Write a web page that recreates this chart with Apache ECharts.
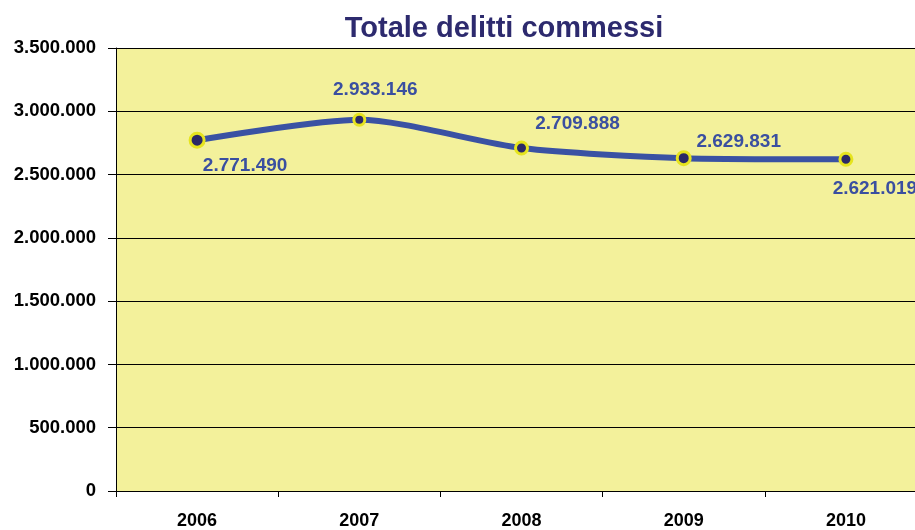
<!DOCTYPE html>
<html>
<head>
<meta charset="utf-8">
<script src="https://cdn.jsdelivr.net/npm/echarts@6/dist/echarts.min.js"></script>
<style>
html,body{margin:0;padding:0;background:#fff;}
#c{width:915px;height:530px;}
</style>
</head>
<body>
<div id="c"></div>
<script>
var titleText = 'Totale delitti commessi';
var years = ['2006', '2007', '2008', '2009', '2010'];
var delitti = [2771490, 2933146, 2709888, 2629831, 2621019];
var yTicks = [0, 500000, 1000000, 1500000, 2000000, 2500000, 3000000, 3500000];

function fmt(v) {
  return String(Math.round(v)).replace(/\B(?=(\d{3})+(?!\d))/g, '.');
}

var labelPlacement = [
  {position: 'bottom', offset: [48, 3]},
  {position: 'top', offset: [16, -8]},
  {position: 'top', offset: [56, -2]},
  {position: 'top', offset: [55, 6]},
  {position: 'bottom', offset: [29, 8]}
];
var markerSizes = [14, 11, 12, 13, 12];

var seriesData = delitti.map(function (v, i) {
  return {value: v, label: labelPlacement[i], symbolSize: markerSizes[i]};
});

var chart = echarts.init(document.getElementById('c'), null, {renderer: 'canvas'});
chart.setOption({
  animation: false,
  backgroundColor: '#ffffff',
  title: {
    text: titleText,
    left: 499,
    textAlign: 'center',
    top: 9,
    textStyle: {
      fontFamily: 'Liberation Sans, Arial, sans-serif',
      fontSize: 29,
      fontWeight: 'bold',
      color: '#2d2a6e'
    }
  },
  grid: {
    left: 116,
    top: 48,
    bottom: 39,
    width: 811,
    outerBoundsMode: 'none',
    containLabel: false,
    show: true,
    backgroundColor: '#f3f19b',
    borderWidth: 0
  },
  xAxis: {
    type: 'category',
    data: years,
    boundaryGap: true,
    axisLine: {show: true, lineStyle: {color: '#000', width: 1}},
    axisTick: {show: true, length: 6, lineStyle: {color: '#000'}},
    axisLabel: {
      margin: 21,
      fontFamily: 'Liberation Sans, Arial, sans-serif',
      fontSize: 18,
      fontWeight: 'bold',
      color: '#000'
    },
    splitLine: {show: false}
  },
  yAxis: {
    type: 'value',
    min: yTicks[0],
    max: yTicks[yTicks.length - 1],
    interval: yTicks[1] - yTicks[0],
    axisLine: {show: true, lineStyle: {color: '#000', width: 1}},
    axisTick: {show: true, length: 8, lineStyle: {color: '#000'}},
    axisLabel: {
      margin: 20,
      fontFamily: 'Liberation Sans, Arial, sans-serif',
      fontSize: 18.5,
      fontWeight: 'bold',
      color: '#000',
      formatter: function (v) { return fmt(v); }
    },
    splitLine: {show: true, lineStyle: {color: '#000', width: 1}}
  },
  series: [{
    type: 'line',
    data: seriesData,
    smooth: 0.25,
    symbol: 'circle',
    symbolSize: 12,
    lineStyle: {color: '#3a52a3', width: 6},
    itemStyle: {color: '#2b2966', borderColor: '#e6e41e', borderWidth: 3},
    label: {
      show: true,
      fontFamily: 'Liberation Sans, Arial, sans-serif',
      fontSize: 19,
      fontWeight: 'bold',
      color: '#3a4fa0',
      formatter: function (p) { return fmt(p.value); }
    }
  }]
});
</script>
</body>
</html>
